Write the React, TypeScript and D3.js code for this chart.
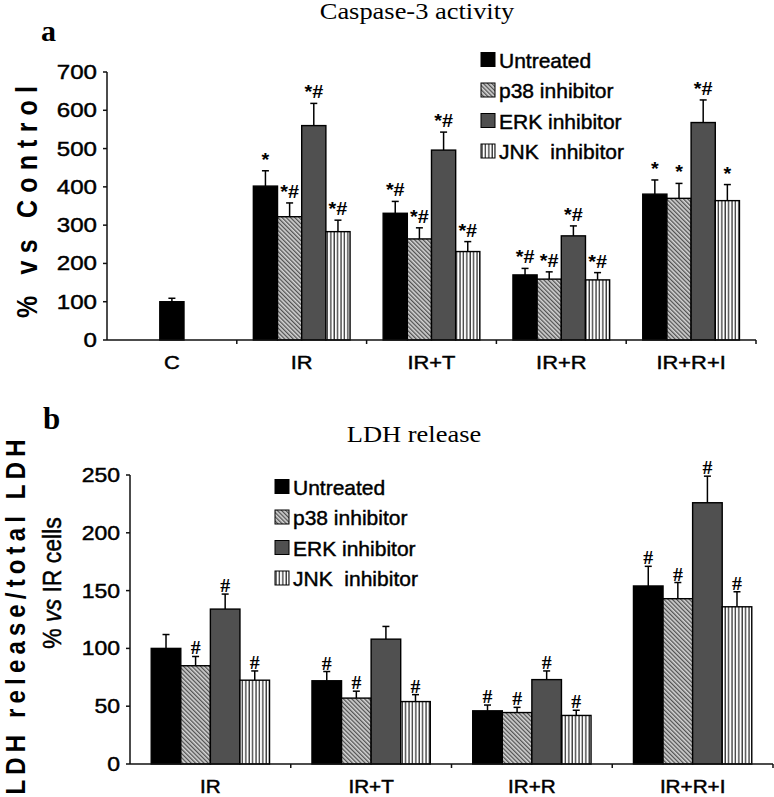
import React from "react";
import * as d3 from "d3";

const W = 774;
const H = 797;
const SANS = "Liberation Sans, Arial, sans-serif";
const SERIF = "Liberation Serif, Times New Roman, serif";

const seriesNames = ["Untreated", "p38 inhibitor", "ERK inhibitor", "JNK  inhibitor"];
const seriesFills = ["#000000", "url(#hatchDiag)", "#505050", "url(#hatchVert)"];

// panel a - caspase-3 activity
const groupsA = ["C", "IR", "IR+T", "IR+R", "IR+R+I"];
const caspUntreated = [100, 402, 331, 170, 381];
const caspP38 = [null, 322, 264, 159, 370];
const caspERK = [null, 560, 496, 272, 568];
const caspJNK = [null, 283, 231, 157, 364];
const caspUntreatedErr = [9, 40, 31, 17, 37];
const caspP38Err = [null, 36, 29, 19, 39];
const caspERKErr = [null, 58, 47, 26, 59];
const caspJNKErr = [null, 30, 26, 19, 42];
const caspUntreatedSig = ["", "*", "*#", "*#", "*"];
const caspP38Sig = ["", "*#", "*#", "*#", "*"];
const caspERKSig = ["", "*#", "*#", "*#", "*#"];
const caspJNKSig = ["", "*#", "*#", "*#", "*"];
const ticksA = [0, 100, 200, 300, 400, 500, 600, 700];

// panel b - LDH release
const groupsB = ["IR", "IR+T", "IR+R", "IR+R+I"];
const ldhUntreated = [100, 72, 46, 154];
const ldhP38 = [85, 57, 44.5, 143];
const ldhERK = [134, 108, 73, 226];
const ldhJNK = [72.5, 54, 42, 136];
const ldhUntreatedErr = [12, 8, 5, 17];
const ldhP38Err = [8, 6, 4.5, 14];
const ldhERKErr = [13, 11, 7.5, 23];
const ldhJNKErr = [8, 6, 4.5, 13];
const ldhUntreatedSig = ["", "#", "#", "#"];
const ldhP38Sig = ["#", "#", "#", "#"];
const ldhERKSig = ["#", "", "#", "#"];
const ldhJNKSig = ["#", "#", "#", "#"];
const ticksB = [0, 50, 100, 150, 200, 250];

// horizontal text in the figure is a bit stretched sideways
function Txt({ x, y, sx = 1.15, children, ...rest }: any) {
  return (
    <text transform={`translate(${x},${y}) scale(${sx},1)`} {...rest}>
      {children}
    </text>
  );
}

// a little outline makes the sans text as heavy as in the scan
const heavy = { stroke: "#000", strokeWidth: 0.45 };

function Panel(props: any) {
  const { groups, values, errs, sigs, ticks, yMax, left, right, top, bottom,
    barFrac, sigFont, sigSize, sigGap, tickSize, xLabSize, xLabY } = props;
  const x = d3.scaleBand().domain(groups).range([left, right]).padding(0);
  const y = d3.scaleLinear().domain([0, yMax]).range([bottom, top]);
  const bw = x.bandwidth();
  const groupW = bw * barFrac;
  const inner = d3.scaleBand<number>().domain(d3.range(4)).range([0, groupW]);
  const barW = inner.bandwidth();

  const bars: any[] = [];
  groups.forEach((g: string, gi: number) => {
    const present = d3.range(4).filter((s) => values[s][gi] != null);
    present.forEach((s) => {
      let bx;
      if (present.length === 1) bx = (x(g) as number) + bw / 2 - barW / 2;
      else bx = (x(g) as number) + (bw - groupW) / 2 + (inner(s) as number);
      bars.push({ s, gi, bx, v: values[s][gi], e: errs[s][gi], sig: sigs[s][gi] });
    });
  });

  return (
    <g>
      {/* y axis */}
      <line x1={left} x2={left} y1={top} y2={bottom} stroke="#111" strokeWidth={1.5} />
      {ticks.map((t: number) => (
        <g key={t}>
          <line x1={left - 4} x2={left} y1={y(t)} y2={y(t)} stroke="#111" strokeWidth={1.5} />
          <Txt x={left - 10} y={y(t) + 7} textAnchor="end" fontFamily={SANS} fontSize={tickSize} fill="#000" {...heavy}>
            {t}
          </Txt>
        </g>
      ))}
      {/* bars */}
      {bars.map((b, i) => (
        <g key={i}>
          <line x1={b.bx + barW / 2} x2={b.bx + barW / 2} y1={y(b.v)} y2={y(b.v + b.e)} stroke="#000" strokeWidth={1.5} />
          <line x1={b.bx + barW / 2 - 3.5} x2={b.bx + barW / 2 + 3.5} y1={y(b.v + b.e)} y2={y(b.v + b.e)} stroke="#000" strokeWidth={1.5} />
          <rect x={b.bx} y={y(b.v)} width={barW} height={bottom - y(b.v)} fill={seriesFills[b.s]} stroke="#000" strokeWidth={1.4} />
          {b.sig && (
            <Txt x={b.bx + barW / 2} y={y(b.v + b.e) - sigGap} sx={1.1} textAnchor="middle" fontFamily={sigFont} fontWeight="bold" fontSize={sigSize} fill="#000">
              {b.sig}
            </Txt>
          )}
        </g>
      ))}
      {/* x axis */}
      <line x1={left} x2={right} y1={bottom} y2={bottom} stroke="#111" strokeWidth={1.5} />
      {d3.range(1, groups.length + 1).map((i) => (
        <line key={i} x1={left + i * bw} x2={left + i * bw} y1={bottom} y2={bottom + 4} stroke="#111" strokeWidth={1.5} />
      ))}
      {groups.map((g: string) => (
        <Txt key={g} x={(x(g) as number) + bw / 2} y={xLabY} textAnchor="middle" fontFamily={SANS} fontSize={xLabSize} fill="#000" {...heavy}>
          {g}
        </Txt>
      ))}
    </g>
  );
}

function Legend({ x, y }: any) {
  return (
    <g>
      {seriesNames.map((n, i) => (
        <g key={n} transform={`translate(${x},${y + i * 30.5})`}>
          <rect x={0} y={-7.5} width={14} height={14} fill={seriesFills[i]} stroke="#000" strokeWidth={1} />
          <text x={18} y={7.5} fontFamily={SANS} fontSize={21} fill="#000" style={{ whiteSpace: "pre" }} {...heavy}>
            {n}
          </text>
        </g>
      ))}
    </g>
  );
}

export default function App() {
  return (
    <svg width={W} height={H} style={{ position: "absolute", left: 0, top: 0, background: "#fff" }}>
      <defs>
        <pattern id="hatchDiag" width={3} height={3} patternUnits="userSpaceOnUse" patternTransform="rotate(-45)">
          <rect width={3} height={3} fill="#d4d4d4" />
          <line x1={0.7} x2={0.7} y1={0} y2={3} stroke="#3a3a3a" strokeWidth={1.1} />
        </pattern>
        <pattern id="hatchVert" width={3.4} height={4} patternUnits="userSpaceOnUse">
          <rect width={3.4} height={4} fill="#fff" />
          <line x1={1} x2={1} y1={0} y2={4} stroke="#111" strokeWidth={1.1} />
        </pattern>
      </defs>
      <rect width={W} height={H} fill="#fff" />

      {/* panel a */}
      <Txt x={417} y={19} textAnchor="middle" fontFamily={SERIF} fontSize={23} fill="#000">
        Caspase-3 activity
      </Txt>
      <text x={41} y={41} fontFamily={SERIF} fontWeight="bold" fontSize={30} fill="#000">a</text>
      <text transform="translate(37,202) scale(1.15,1) rotate(-90)" textAnchor="middle" fontFamily={SANS} fontWeight="bold" fontSize={25} textLength={232} lengthAdjust="spacing" fill="#000">
        % vs Control
      </text>
      <Panel
        groups={groupsA}
        values={[caspUntreated, caspP38, caspERK, caspJNK]}
        errs={[caspUntreatedErr, caspP38Err, caspERKErr, caspJNKErr]}
        sigs={[caspUntreatedSig, caspP38Sig, caspERKSig, caspJNKSig]}
        ticks={ticksA}
        yMax={700}
        left={107}
        right={756}
        top={72}
        bottom={340}
        barFrac={0.745}
        sigFont={SANS}
        sigSize={18}
        sigGap={5}
        tickSize={21}
        xLabSize={19}
        xLabY={369}
      />
      <Legend x={481} y={60} />

      {/* panel b */}
      <text x={43} y={429} fontFamily={SERIF} fontWeight="bold" fontSize={31} fill="#000">b</text>
      <Txt x={414} y={442} textAnchor="middle" fontFamily={SERIF} fontSize={23} fill="#000">
        LDH release
      </Txt>
      <text transform="translate(25,617) scale(1.12,1) rotate(-90)" textAnchor="middle" fontFamily={SANS} fontWeight="bold" fontSize={24} textLength={355} lengthAdjust="spacing" fill="#000">
        LDH release/total LDH
      </text>
      <text transform="translate(61,583) scale(1.15,1) rotate(-90)" textAnchor="middle" fontFamily={SANS} fontSize={23} fill="#000" {...heavy}>
        % <tspan fontStyle="italic">vs</tspan> IR cells
      </text>
      <Panel
        groups={groupsB}
        values={[ldhUntreated, ldhP38, ldhERK, ldhJNK]}
        errs={[ldhUntreatedErr, ldhP38Err, ldhERKErr, ldhJNKErr]}
        sigs={[ldhUntreatedSig, ldhP38Sig, ldhERKSig, ldhJNKSig]}
        ticks={ticksB}
        yMax={250}
        left={130}
        right={773}
        top={475}
        bottom={764}
        barFrac={0.736}
        sigFont={SERIF}
        sigSize={18}
        sigGap={2}
        tickSize={20}
        xLabSize={18}
        xLabY={793}
      />
      <Legend x={275} y={487} />
    </svg>
  );
}
